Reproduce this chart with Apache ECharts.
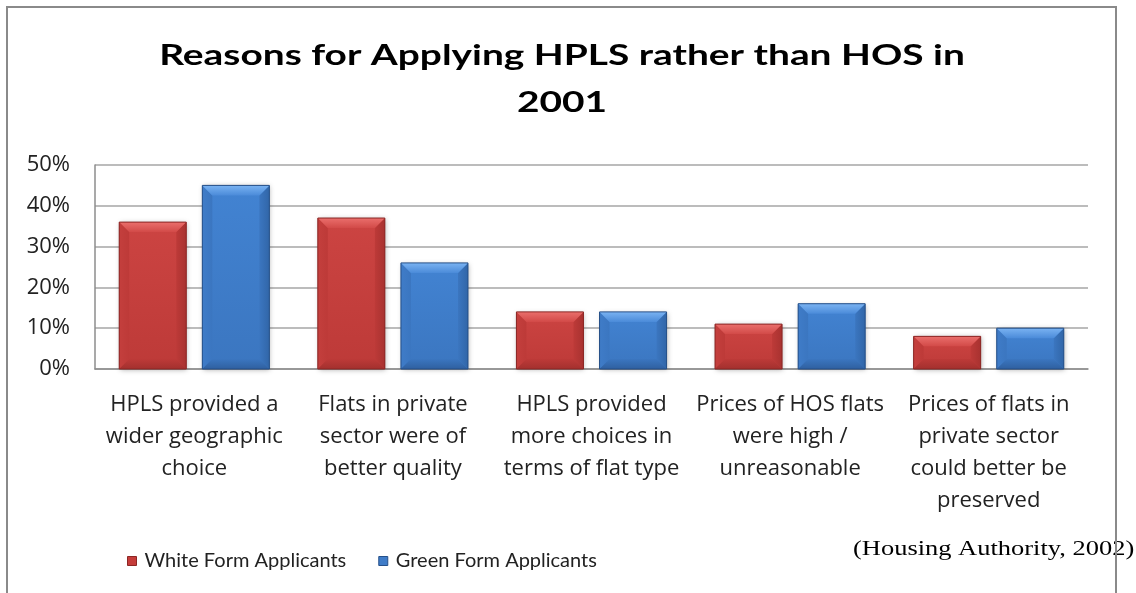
<!DOCTYPE html>
<html>
<head>
<meta charset="utf-8">
<script src="https://cdn.jsdelivr.net/npm/echarts@6/dist/echarts.min.js"></script>
<style>
  html, body { margin: 0; padding: 0; background: #ffffff; }
  #chart { width: 1136px; height: 593px; }
</style>
</head>
<body>
<div id="chart"></div>
<script>
// Reasons cited by applicants (share of respondents, %)
const categories = [
  'HPLS provided a\nwider geographic\nchoice',
  'Flats in private\nsector were of\nbetter quality',
  'HPLS provided\nmore choices in\nterms of flat type',
  'Prices of HOS flats\nwere high /\nunreasonable',
  'Prices of flats in\nprivate sector\ncould better be\npreserved'
];
const whiteForm = [36, 37, 14, 11, 8];
const greenForm = [45, 26, 14, 16, 10];
const yTicks = [0, 10, 20, 30, 40, 50];
const titleLines = ['Reasons for Applying HPLS rather than HOS in', '2001'];
const sourceNote = '(Housing Authority, 2002)';

const LABEL_FONT = '"Open Sans", Lato, sans-serif';
const LEGEND_FONT = 'Lato, "Open Sans", sans-serif';

// bevelled bar palettes
const redTone = {
  faceTop: '#cc4442', faceBottom: '#bd3a38',
  bevelTop: '#ea6f6c', bevelTopInner: '#d24a48',
  left: '#c43f3d', right: '#a83230', bottom: '#a3302e',
  edge: '#8a2624'
};
const blueTone = {
  faceTop: '#4283d2', faceBottom: '#3b76c0',
  bevelTop: '#7ab3f2', bevelTopInner: '#4b8bd9',
  left: '#3f7cc8', right: '#3166a8', bottom: '#2f60a0',
  edge: '#254f87'
};

const BAR_SHARE = 0.3375;   // bar width as share of one category band
const BAR_GAP = 0.24;       // gap between paired bars, as share of bar width

function lgrad(x2, y2, a, b) {
  return new echarts.graphic.LinearGradient(0, 0, x2, y2, [
    { offset: 0, color: a }, { offset: 1, color: b }
  ]);
}

function bevelBar(slot, tone) {
  return function (params, api) {
    const cat = api.value(0);
    const val = api.value(1);
    const topPt = api.coord([cat, val]);
    const basePt = api.coord([cat, 0]);
    const band = api.size([1, 0])[0];
    const w = band * BAR_SHARE;
    const gap = w * BAR_GAP;
    const cx = topPt[0] + (slot === 0 ? -1 : 1) * (w + gap) / 2;
    const x0 = cx - w / 2, x1 = cx + w / 2;
    const y0 = topPt[1], y1 = basePt[1];
    const h = y1 - y0;
    const b = Math.min(10, h / 3, w / 4);
    return {
      type: 'group',
      children: [
        {
          type: 'rect',
          shape: { x: x0, y: y0, width: w, height: h },
          style: {
            fill: lgrad(0, 1, tone.faceTop, tone.faceBottom),
            shadowBlur: 5, shadowColor: 'rgba(0,0,0,0.3)',
            shadowOffsetX: 1, shadowOffsetY: 1
          }
        },
        {
          type: 'polygon',
          shape: { points: [[x0, y0], [x0 + b, y0 + b], [x0 + b, y1 - b], [x0, y1]] },
          style: { fill: lgrad(1, 0, tone.left, tone.faceBottom) }
        },
        {
          type: 'polygon',
          shape: { points: [[x1, y0], [x1 - b, y0 + b], [x1 - b, y1 - b], [x1, y1]] },
          style: { fill: lgrad(1, 0, tone.faceBottom, tone.right) }
        },
        {
          type: 'polygon',
          shape: { points: [[x0, y1], [x1, y1], [x1 - b, y1 - b], [x0 + b, y1 - b]] },
          style: { fill: lgrad(0, 1, tone.faceBottom, tone.bottom) }
        },
        {
          type: 'polygon',
          shape: { points: [[x0, y0], [x1, y0], [x1 - b, y0 + b], [x0 + b, y0 + b]] },
          style: { fill: lgrad(0, 1, tone.bevelTop, tone.bevelTopInner) }
        },
        {
          type: 'rect',
          shape: { x: x0, y: y0, width: w, height: h },
          style: { fill: 'none', stroke: tone.edge, lineWidth: 1 }
        }
      ]
    };
  };
}

const chart = echarts.init(document.getElementById('chart'), null, { renderer: 'canvas' });

chart.setOption({
  animation: false,
  backgroundColor: '#ffffff',
  legend: {
    left: 122,
    top: 546,
    itemWidth: 9,
    itemHeight: 9,
    itemGap: 32,
    icon: 'rect',
    textStyle: { fontFamily: LEGEND_FONT, fontSize: 20, color: '#222222', padding: [0, 0, 0, 3] },
    data: [
      { name: 'White Form Applicants', itemStyle: { color: '#c53c3a', borderColor: '#8c2624', borderWidth: 1 } },
      { name: 'Green Form Applicants', itemStyle: { color: '#3f7cc8', borderColor: '#25508a', borderWidth: 1 } }
    ]
  },
  grid: {
    left: 95,
    right: 48,
    top: 165,
    bottom: 224,
    containLabel: false
  },
  xAxis: {
    type: 'category',
    data: categories,
    axisLine: { show: true, lineStyle: { color: '#8c8c8c', width: 1.5 } },
    axisTick: { show: false },
    axisLabel: {
      interval: 0,
      margin: 20,
      fontFamily: LABEL_FONT,
      fontSize: 22,
      lineHeight: 32,
      color: '#222222',
      align: 'center'
    }
  },
  yAxis: {
    type: 'value',
    min: 0,
    max: 50,
    interval: 10,
    axisLine: { show: true, lineStyle: { color: '#8c8c8c', width: 1.5 } },
    axisTick: { show: false },
    splitLine: { show: true, lineStyle: { color: '#a6a6a6', width: 1.5 } },
    axisLabel: {
      margin: 25,
      fontFamily: LABEL_FONT,
      fontSize: 22,
      color: '#222222',
      formatter: function (v) { return yTicks.indexOf(v) >= 0 ? v + '%' : ''; }
    }
  },
  series: [
    {
      name: 'White Form Applicants',
      type: 'custom',
      renderItem: bevelBar(0, redTone),
      encode: { x: 0, y: 1 },
      itemStyle: { color: '#c53c3a' },
      data: whiteForm.map(function (v, i) { return [i, v]; })
    },
    {
      name: 'Green Form Applicants',
      type: 'custom',
      renderItem: bevelBar(1, blueTone),
      encode: { x: 0, y: 1 },
      itemStyle: { color: '#3f7cc8' },
      data: greenForm.map(function (v, i) { return [i, v]; })
    }
  ],
  graphic: [
    {
      type: 'rect',
      z: 100,
      shape: { x: 7, y: 7, width: 1109, height: 620 },
      style: { fill: 'none', stroke: '#8a8a8a', lineWidth: 2 }
    },
    // chart title, two centred lines, widened lettering
    {
      type: 'text',
      z: 90,
      x: 562,
      y: 56,
      scaleX: 1.34,
      style: {
        text: titleLines[0],
        font: 'bold 29px Lato, "Open Sans", sans-serif',
        fill: '#000000',
        align: 'center',
        verticalAlign: 'middle'
      }
    },
    {
      type: 'text',
      z: 90,
      x: 562,
      y: 103,
      scaleX: 1.34,
      style: {
        text: titleLines[1],
        font: 'bold 29px Lato, "Open Sans", sans-serif',
        fill: '#000000',
        align: 'center',
        verticalAlign: 'middle'
      }
    },
    {
      type: 'text',
      z: 90,
      x: 853,
      y: 549,
      scaleX: 1.26,
      style: {
        text: sourceNote,
        font: '21px "Liberation Serif", "Times New Roman", serif',
        fill: '#000000',
        align: 'left',
        verticalAlign: 'middle'
      }
    }
  ]
});
</script>
</body>
</html>
